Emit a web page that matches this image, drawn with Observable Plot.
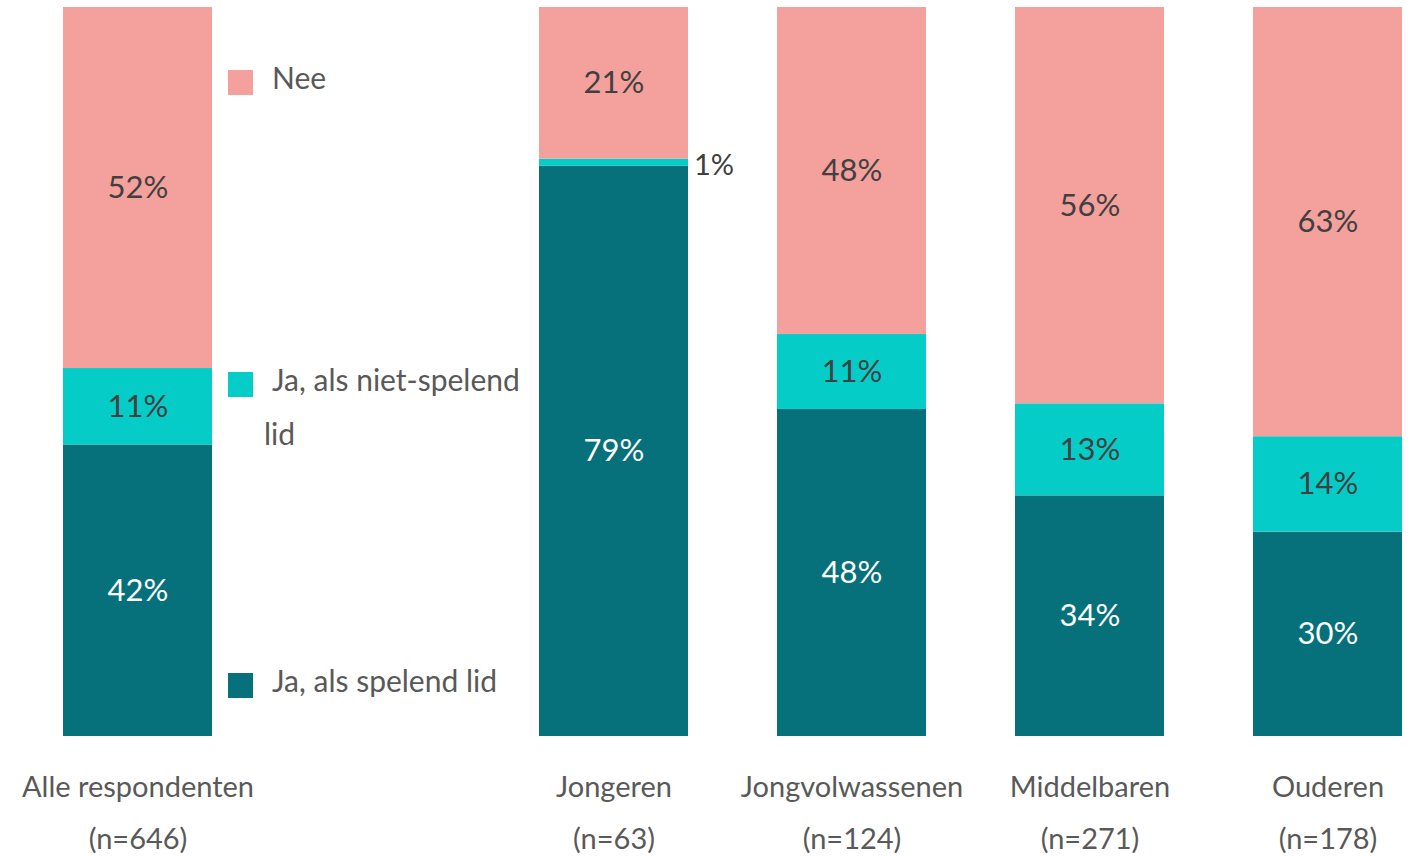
<!DOCTYPE html>
<html><head><meta charset="utf-8">
<script src="https://cdn.jsdelivr.net/npm/d3@7"></script>
<script src="https://cdn.jsdelivr.net/npm/@observablehq/plot@0.6"></script>
<style>
body{margin:0;background:#fff;font-family:Lato,"Open Sans",sans-serif;}
#wrap{position:relative;width:1414px;height:856px;}
.leg{position:absolute;display:flex;align-items:flex-start;font-size:30px;color:#595959;}
.sw{width:25px;height:25px;flex:none;}
</style></head>
<body><div id="wrap"></div>
<script>
const groups = ["Alle respondenten", "Jongeren", "Jongvolwassenen", "Middelbaren", "Ouderen"];
const groupN = ["(n=646)", "(n=63)", "(n=124)", "(n=271)", "(n=178)"];
const answers = ["Ja, als spelend lid", "Ja, als niet-spelend lid", "Nee"];
const colors = ["#06707b", "#06ccc8", "#f4a09d"];
const spelend = [42, 79, 48, 34, 30];
const nietSpelend = [11, 1, 11, 13, 14];
const nee = [52, 21, 48, 56, 63];

const series = [spelend, nietSpelend, nee];
const data = [];
groups.forEach((g, i) => answers.forEach((a, j) => data.push({group: g, answer: a, value: series[j][i]})));
const domainX = [groups[0], "__legend__", ...groups.slice(1)];
const labels = groups.map((g, i) => ({group: g, name: g, n: groupN[i]}));

const stackOpts = {x: "group", y: "value", z: "answer", order: answers, offset: "normalize"};
const chart = Plot.plot({
  width: 1414, height: 856,
  marginTop: 7, marginBottom: 120, marginLeft: 62, marginRight: 12,
  style: {fontFamily: "Lato, 'Open Sans', sans-serif", background: "#fff"},
  x: {domain: domainX, paddingInner: 0.375, paddingOuter: 0, axis: null},
  y: {axis: null},
  color: {domain: answers, range: colors},
  marks: [
    Plot.barY(data, Plot.stackY({...stackOpts, fill: "answer"})),
    Plot.text(data, Plot.stackY({...stackOpts, text: d => d.value >= 3 ? d.value + "%" : "",
      fill: d => d.answer === answers[0] ? "#ffffff" : "#404040", fontSize: 31})),
    Plot.text(data, Plot.stackY({...stackOpts, text: d => d.value < 3 ? d.value + "%" : "",
      fill: "#404040", fontSize: 29, textAnchor: "start", dx: 80, dy: 3})),
    Plot.text(labels, {x: "group", text: "name", frameAnchor: "bottom", dy: 60, fontSize: 29, fill: "#595959"}),
    Plot.text(labels, {x: "group", text: "n", frameAnchor: "bottom", dy: 112, fontSize: 29, fill: "#595959"})
  ]
});
const wrap = document.getElementById("wrap");
wrap.appendChild(chart);

// legend overlay
const legItems = [
  {label: "Nee", color: colors[2], top: 70, html: "Nee"},
  {label: answers[1], color: colors[1], top: 372, html: "Ja, als niet-spelend<br><span style='margin-left:-8px'>lid</span>"},
  {label: answers[0], color: colors[0], top: 673, html: "Ja, als spelend lid"}
];
legItems.forEach(it => {
  const d = document.createElement("div");
  d.className = "leg";
  d.style.left = "228px"; d.style.top = it.top + "px";
  d.innerHTML = `<div class="sw" style="background:${it.color}"></div><div style="margin-left:19px;margin-top:-20px;line-height:54px">${it.html}</div>`;
  wrap.appendChild(d);
});
</script></body></html>
